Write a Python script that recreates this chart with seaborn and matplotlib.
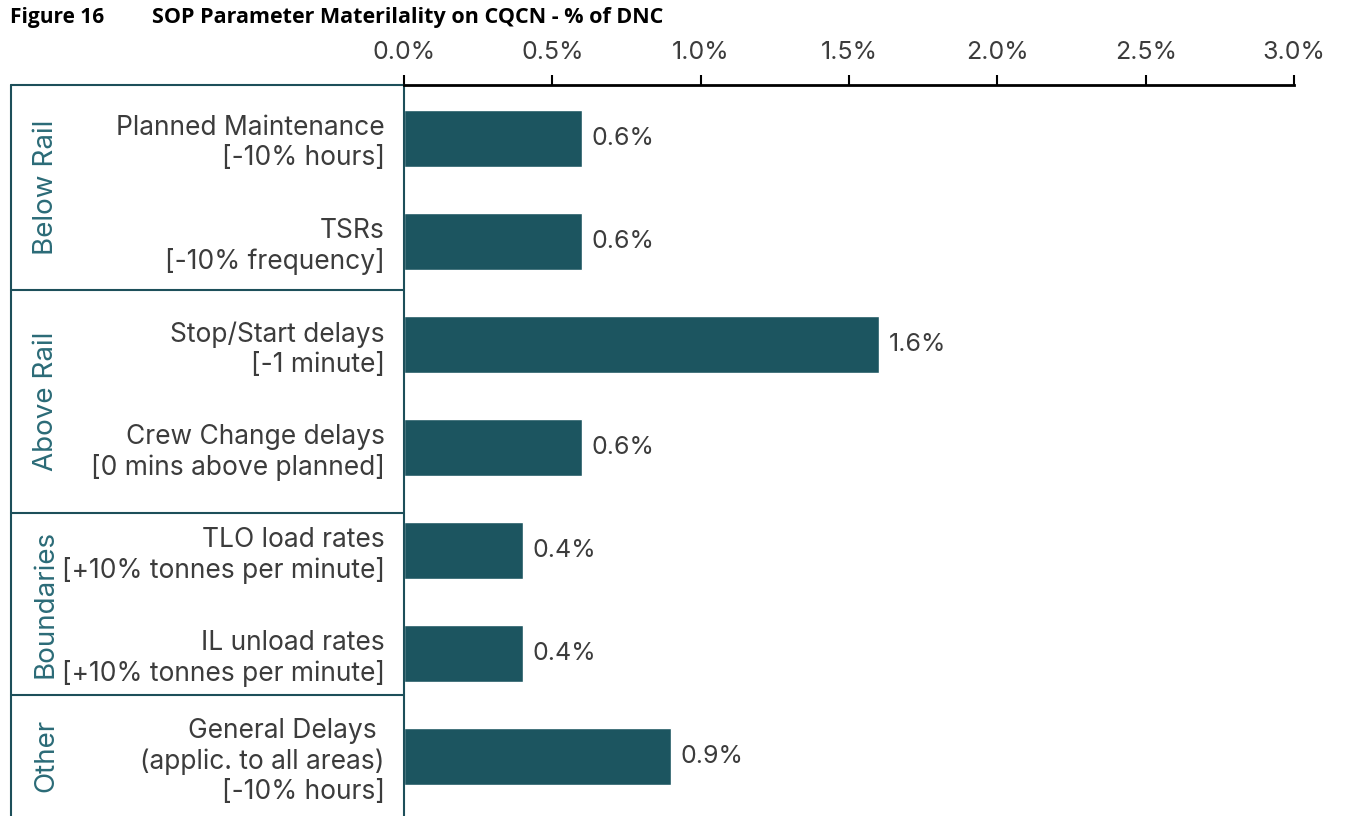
import pandas as pd
import numpy as np
import matplotlib.pyplot as plt
import matplotlib.transforms as mtransforms
import seaborn as sns

# data
params = [
    "Planned Maintenance\n[-10% hours]",
    "TSRs\n[-10% frequency]",
    "Stop/Start delays\n[-1 minute]",
    "Crew Change delays\n[0 mins above planned]",
    "TLO load rates\n[+10% tonnes per minute]",
    "IL unload rates\n[+10% tonnes per minute]",
    "General Delays \n(applic. to all areas)\n[-10% hours]",
]
materiality = [0.6, 0.6, 1.6, 0.6, 0.4, 0.4, 0.9]
groups = ["Below Rail", "Below Rail", "Above Rail", "Above Rail",
          "Boundaries", "Boundaries", "Other"]
xticks = [0.0, 0.5, 1.0, 1.5, 2.0, 2.5, 3.0]

df = pd.DataFrame({"param": params, "value": materiality, "group": groups})

bar_col = "#1c5560"
text_col = "#3c3c3c"
group_col = "#2b6b77"
box_col = "#1d4f5a"

sns.set_style("white")
plt.rcParams["font.family"] = ["Inter", "DejaVu Sans"]

fig = plt.figure(figsize=(13.47, 8.16), dpi=100)
ax = fig.add_axes([404 / 1347, 0.0, 890 / 1347, 1 - 85 / 816])

sns.barplot(data=df, x="value", y="param", color=bar_col, width=0.55,
            saturation=1, ax=ax)

ax.set_xlim(0, 3.0)
ax.set_ylim(6.576, -0.517)
ax.set_xlabel("")
ax.set_ylabel("")

ax.xaxis.tick_top()
ax.set_xticks(xticks)
ax.set_xticklabels([f"{t:.1f}%" for t in xticks], color=text_col, fontsize=18)
ax.tick_params(axis="x", direction="out", length=7, width=1.5, color="black", pad=8)
ax.tick_params(axis="y", length=0, pad=14)
for lab in ax.get_yticklabels():
    lab.set_fontsize(19)
    lab.set_color(text_col)
    lab.set_multialignment("right")
    lab.set_linespacing(1.2)

for s in ["right", "bottom"]:
    ax.spines[s].set_visible(False)
ax.spines["top"].set_color("black")
ax.spines["top"].set_linewidth(2)
ax.spines["left"].set_color(box_col)
ax.spines["left"].set_linewidth(1.5)

ax.bar_label(ax.containers[0], labels=[f"{v:.1f}%" for v in materiality],
             padding=7, fontsize=18, color=text_col)

# group boxes on the left
tr = mtransforms.blended_transform_factory(fig.transFigure, ax.transData)
x0, x1 = 11 / 1347, 403 / 1347
edges = [-0.517, 1.472, 3.64, 5.40, 6.576]
names = ["Below Rail", "Above Rail", "Boundaries", "Other"]
for y in edges[:-1]:
    ax.plot([x0, x1], [y, y], color=box_col, lw=1.5, transform=tr, clip_on=False)
ax.plot([x0, x0], [edges[0], edges[-1]], color=box_col, lw=1.5, transform=tr, clip_on=False)
for name, a, b in zip(names, edges[:-1], edges[1:]):
    ax.text(46 / 1347, (a + b) / 2, name, rotation=90, ha="center", va="center",
            fontsize=20, color=group_col, transform=tr)

fig.text(10 / 1347, 1 - 17 / 816, "Figure 16", fontsize=15, fontweight="bold",
         family=["Open Sans", "DejaVu Sans"], va="center", color="black")
fig.text(152 / 1347, 1 - 17 / 816, "SOP Parameter Materilality on CQCN - % of DNC",
         fontsize=15.5, fontweight="bold", family=["Open Sans", "DejaVu Sans"],
         va="center", color="black")

fig.savefig("out.png", dpi=100)
